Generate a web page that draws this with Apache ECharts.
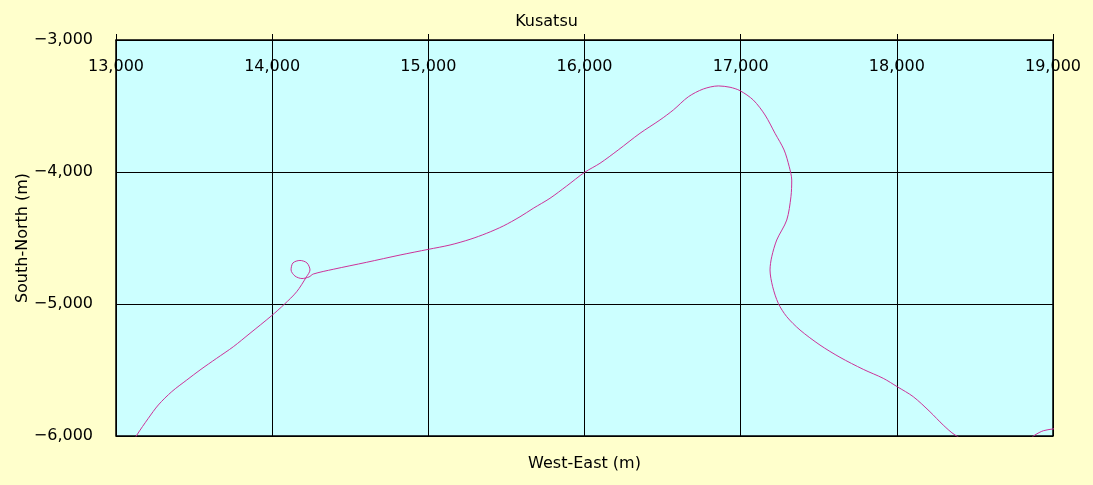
<!DOCTYPE html>
<html>
<head>
<meta charset="utf-8">
<script src="https://cdn.jsdelivr.net/npm/echarts@6/dist/echarts.min.js"></script>
<style>
html,body{margin:0;padding:0;background:#FFFFCC;}
#c{width:1093px;height:485px;}
</style>
</head>
<body>
<div id="c"></div>
<script>
var titleText = "Kusatsu";
var xName = "West-East (m)";
var yName = "South-North (m)";
var xTicks = [13000, 14000, 15000, 16000, 17000, 18000, 19000];
var yTicks = [-3000, -4000, -5000, -6000];
var eastWest = [13096,13134,13207,13271,13357,13453,13538,13645,13751,13858,13994,14078,14157,14217,
  14242,14223,14178,14133,14121,14146,14191,14236,14263,14391,14605,14819,15000,15139,15267,15374,
  15480,15587,15672,15779,15886,16000,16099,16216,16355,16483,16569,16665,16761,16857,16932,16996,
  17081,17156,17220,17278,17311,17327,17322,17295,17231,17199,17188,17205,17241,17295,17380,17508,
  17636,17785,17913,18003,18105,18212,18297,18372,18500,18692,18820,18885,18938,18998,19077];
var southNorth = [-6076,-5992,-5866,-5765,-5664,-5576,-5500,-5411,-5324,-5222,-5091,-5002,-4907,-4799,
  -4742,-4689,-4670,-4689,-4742,-4788,-4807,-4795,-4773,-4737,-4684,-4629,-4586,-4553,-4510,-4464,
  -4409,-4339,-4275,-4199,-4106,-4003,-3934,-3833,-3707,-3606,-3530,-3430,-3371,-3348,-3358,-3384,
  -3455,-3568,-3707,-3833,-3960,-4061,-4187,-4364,-4515,-4642,-4742,-4869,-4995,-5096,-5197,-5311,
  -5404,-5495,-5563,-5627,-5702,-5816,-5917,-5992,-6068,-6083,-6045,-5992,-5960,-5947,-5932];

var pts = eastWest.map(function(x, i){ return [x, southNorth[i]]; });
function fmt(v){
  var s = Math.abs(v).toLocaleString('en-US');
  return (v < 0 ? '\u2212' : '') + s;
}
var font = 'DejaVu Sans';
var chart = echarts.init(document.getElementById('c'));
chart.setOption({
  backgroundColor: '#FFFFCC',
  animation: false,
  title: {
    text: titleText, left: 'center', top: 9,
    textStyle: {fontFamily: font, fontSize: 16, fontWeight: 'normal', color: '#000'}
  },
  grid: {
    left: 116, right: 40, top: 40, bottom: 49,
    show: true, backgroundColor: '#CCFFFF', borderColor: '#000', borderWidth: 1.5
  },
  xAxis: [{
    type: 'value', position: 'top', min: xTicks[0], max: xTicks[xTicks.length-1], interval: 1000,
    axisLine: {show: true, lineStyle: {color: '#000', width: 1}},
    axisTick: {show: true, inside: false, length: 6, lineStyle: {color: '#000'}},
    axisLabel: {inside: true, margin: 19, color: '#000', fontFamily: font, fontSize: 16, formatter: fmt},
    splitLine: {show: true, lineStyle: {color: '#000', width: 1}}
  }, {
    type: 'value', position: 'bottom', min: xTicks[0], max: xTicks[xTicks.length-1],
    name: xName, nameLocation: 'middle', nameGap: 20,
    nameTextStyle: {fontFamily: font, fontSize: 16, color: '#000'},
    axisLine: {show: false}, axisTick: {show: false}, axisLabel: {show: false}, splitLine: {show: false}
  }],
  yAxis: {
    type: 'value', min: yTicks[yTicks.length-1], max: yTicks[0], interval: 1000,
    name: yName, nameLocation: 'middle', nameGap: 85, nameMoveOverlap: false,
    nameTextStyle: {fontFamily: font, fontSize: 16, color: '#000'},
    axisLine: {show: true, lineStyle: {color: '#000', width: 1}},
    axisTick: {show: false},
    axisLabel: {margin: 23, color: '#000', fontFamily: font, fontSize: 16, formatter: fmt},
    splitLine: {show: true, lineStyle: {color: '#000', width: 1}}
  },
  series: [{
    type: 'line', xAxisIndex: 0, data: pts, showSymbol: false, smooth: 0.3, clip: true,
    lineStyle: {color: '#CC3399', width: 1}
  }]
});
</script>
</body>
</html>
